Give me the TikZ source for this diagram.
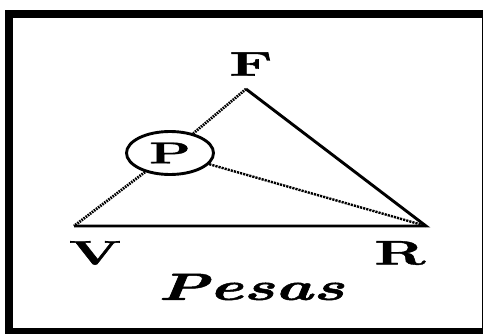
\documentclass[tikz,border=0pt]{standalone}
\usepackage{fontspec}
\newfontfamily\lblfont[FakeBold=1.2]{Latin Modern Roman}
\usetikzlibrary{shapes.geometric}
\begin{document}
\begin{tikzpicture}[x=1pt,y=-1pt,
  lbl/.style={font=\fontsize{34}{34}\lblfont\bfseries, inner sep=0pt},
  solidedge/.style={line width=2.9pt, line join=miter},
  dotedge/.style={line width=2.8pt, dash pattern=on 1.6pt off 1pt},
  dashedge/.style={line width=2.4pt, dash pattern=on 2.2pt off 1pt}]
\useasboundingbox (0,0) rectangle (483,333);
\draw[line width=8pt] (9,14) rectangle (486,332);
\coordinate (F) at (246,89);
\coordinate (V) at (74,226);
\coordinate (R) at (426,226);
\node[ellipse, draw, line width=2.9pt, minimum width=87pt, minimum height=43pt, inner sep=0pt] (P) at (170,153)
  {\fontsize{30}{30}\lblfont\bfseries\scalebox{1.8}[1]{P}};
\draw[solidedge] (V) -- (R) -- (F);
\draw[dotedge] (F) -- (P);
\draw[dotedge] (P) -- (V);
\draw[dashedge] (P) -- (R);
\node[lbl] (Fl) at (251,64) {\scalebox{1.8}[1]{F}};
\node[lbl] (Vl) at (95,253) {\scalebox{1.8}[1]{V}};
\node[lbl] (Rl) at (400,253) {\scalebox{1.8}[1]{R}};
\node[font=\fontsize{38}{38}\lblfont\bfseries\itshape, inner sep=0pt] (T) at (251,287) {\scalebox{1.7}[1]{Pesas}};
\end{tikzpicture}
\end{document}
